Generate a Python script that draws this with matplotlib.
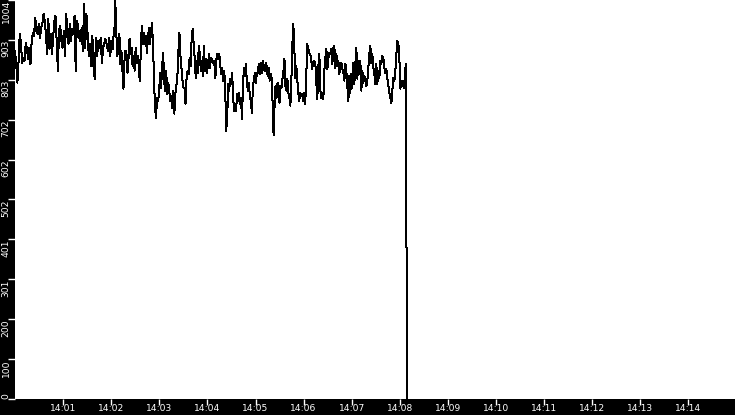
import numpy as np
import matplotlib
matplotlib.use("Agg")
import matplotlib.pyplot as plt

# ---- data ----
seg1_vals = [876, 843, 796, 851, 919, 894, 846, 858, 851, 896,
             884, 856, 884, 843, 901, 921, 914, 959, 926, 919,
             944, 909, 934, 946, 969, 951, 919, 868, 956, 881,
             919, 868, 906, 951, 964, 901, 826, 926, 939, 901,
             884, 926, 863, 969, 926, 894, 944, 901, 931, 919,
             964, 826, 951, 939, 909, 901, 934, 876, 994, 884,
             969, 919, 863, 894, 838, 914, 833, 806, 909, 863,
             901, 884, 909, 846, 884, 896, 906, 894, 876, 909,
             863, 901, 881, 921, 946]
seg2_vals = [1002, 919, 863, 894, 919, 843, 876, 826, 781, 851,
             876, 868, 821, 858, 906, 868, 884, 838, 863, 826,
             884, 846, 863, 838, 801, 868, 939, 894, 921, 894,
             914, 871, 901, 934, 894, 919, 946, 894, 808, 733,
             708, 758, 750, 768, 821, 783, 838, 871, 801, 776,
             826, 768, 796, 776, 750, 763, 733, 776, 718, 768,
             788, 813, 876, 921, 863, 833, 801, 783, 781, 743,
             808, 826, 818, 858, 838, 906, 931, 894, 858, 808,
             851, 821, 889, 868, 826, 851, 813, 889, 826, 856,
             821, 838, 868, 833, 858, 856, 846, 851, 826]
seg3_vals = [808, 856, 868, 856, 868, 838, 818, 833, 801, 826,
             776, 675, 708, 793, 776, 806, 793, 821, 758, 725,
             738, 725, 768, 750, 771, 743, 758, 705, 793, 833,
             813, 843, 793, 776, 796, 758, 750, 720, 783, 801,
             821, 796, 818, 821, 843, 818, 846, 821, 851, 833,
             826, 846, 838, 813, 833, 801, 818, 808, 745, 663,
             738, 788, 758, 796, 771, 745, 788, 783, 806, 826,
             856, 788, 776, 806, 771, 758, 738, 801, 889, 944,
             884, 808, 838, 806, 771, 750, 771, 763, 768, 750,
             771, 743, 796, 894, 884, 871, 868, 858, 831, 846,
             851, 846]
seg4_vals = [843, 796, 755, 838, 868, 776, 758, 771, 755, 826,
             858, 881, 831, 856, 871, 868, 881, 843, 884, 889,
             833, 868, 838, 851, 818, 838, 846, 831, 821, 801,
             843, 826, 788, 750, 813, 771, 818, 783, 846, 793,
             843, 884, 806, 851, 818, 851, 776, 826, 796, 813,
             801, 788, 801, 833, 868, 889, 846, 868, 833, 818,
             793, 843, 793, 826, 808, 851, 843, 863, 858, 833,
             821, 831, 808, 788, 771, 758, 745, 776, 808, 801,
             826, 868, 901, 894, 858, 781, 801, 788, 801, 783,
             833, 843]
drop_vals = [412, 0]

# time (seconds after 14:00) spanned by each segment of samples
seg_spans = [(0.0, 124.7), (125.1, 249.5), (249.9, 374.2), (374.6, 488.1)]
drop_times = [488.2, 489.4]

y_max = 1004
x_max = 898
x_tick_labels = ["14:01", "14:02", "14:03", "14:04", "14:05", "14:06", "14:07",
                 "14:08", "14:09", "14:10", "14:11", "14:12", "14:13", "14:14"]

# ---- assemble series ----
segs = [seg1_vals, seg2_vals, seg3_vals, seg4_vals]
times = []
vals = []
for (a, b), s in zip(seg_spans, segs):
    times.extend(np.linspace(a, b, len(s)))
    vals.extend(s)
times.extend(drop_times)
vals.extend(drop_vals)

# ---- figure ----
W, H = 735, 415
fig = plt.figure(figsize=(W / 100, H / 100), dpi=100, facecolor="black")
ax = fig.add_axes([15 / W, 16 / H, 720 / W, 399 / H])
ax.set_facecolor("white")
ax.plot(times, vals, color="black", lw=0.72, antialiased=False)

ax.set_xlim(0, x_max)
ax.set_ylim(0, y_max)
for sp in ax.spines.values():
    sp.set_visible(False)

ax.set_xticks([60 * (i + 1) for i in range(len(x_tick_labels))])
ax.set_xticklabels(x_tick_labels)
yt = [y_max * k / 10 for k in range(11)]
ax.set_yticks(yt)
ax.set_yticklabels([str(int(v)) for v in yt])

ax.tick_params(axis="x", colors="white", length=4.5, width=1, pad=-1, labelsize=6.6)
ax.tick_params(axis="y", colors="white", length=5, width=1, pad=1.5, labelsize=6.6)
for lab in ax.get_xticklabels():
    lab.set_va("top")
for lab in ax.get_yticklabels():
    lab.set_rotation(90)
    lab.set_va("top")
    lab.set_ha("center")
ylabs = ax.get_yticklabels()
ylabs[0].set_va("bottom")

fig.savefig("out.png", dpi=100, facecolor="black")
